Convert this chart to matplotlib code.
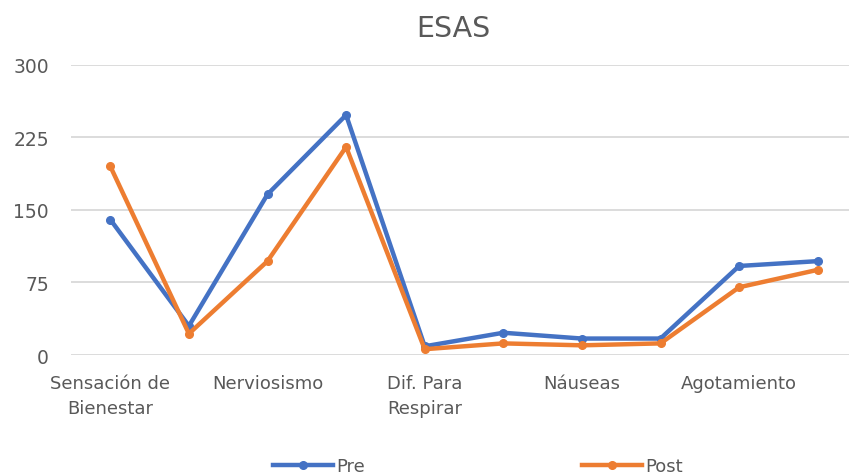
import matplotlib
matplotlib.use("Agg")
import matplotlib.pyplot as plt

# ESAS items (Excel only shows every other label)
categories = ["Sensación de\nBienestar", "Dolor", "Nerviosismo", "Tristeza",
              "Dif. Para\nRespirar", "Somnolencia", "Náuseas", "Apetito",
              "Agotamiento", "Insomnio"]
pre = [140, 30, 166, 248, 9, 23, 17, 17, 92, 97]
post = [195, 22, 97, 215, 6, 12, 10, 12, 70, 88]
yticks = [0, 75, 150, 225, 300]

plt.rcParams['font.family'] = ['DejaVu Sans']
text_col = '#595959'

fig = plt.figure(figsize=(8.49, 4.77), dpi=100)
ax = fig.add_axes([71 / 849, 121 / 477, 786 / 849, 290.3 / 477])

x = list(range(len(categories)))
ax.plot(x, pre, color='#4472C4', lw=3.2, marker='o', ms=5.5, label='Pre',
        solid_joinstyle='round', zorder=3)
ax.plot(x, post, color='#ED7D31', lw=3.2, marker='o', ms=5.5, label='Post',
        solid_joinstyle='round', zorder=3)

ax.set_xlim(-0.5, len(categories) - 0.5)
ax.set_ylim(0, 300)
ax.set_yticks(yticks)
ax.set_yticklabels([str(v) for v in yticks], fontsize=13.5, color=text_col)
ax.set_xticks(x[::2])
ax.set_xticklabels(categories[::2], fontsize=13, color=text_col, linespacing=1.5)
ax.tick_params(axis='both', length=0)
ax.tick_params(axis='y', pad=16)
ax.tick_params(axis='x', pad=14)
ax.grid(axis='y', color='#D9D9D9', lw=1.3)
ax.set_axisbelow(True)
for s in ax.spines.values():
    s.set_visible(False)

fig.text(453 / 849, 1 - 29 / 477, 'ESAS', ha='center', va='center',
         fontsize=20.5, color=text_col)

fig.legend(loc='center left', bbox_to_anchor=(273 / 849, 1 - 467 / 477), ncol=2,
           frameon=False, fontsize=13, handlelength=3.3, handletextpad=0.22,
           columnspacing=12.0, borderpad=0, borderaxespad=0, labelcolor=text_col)

fig.savefig('out.png', dpi=100)
